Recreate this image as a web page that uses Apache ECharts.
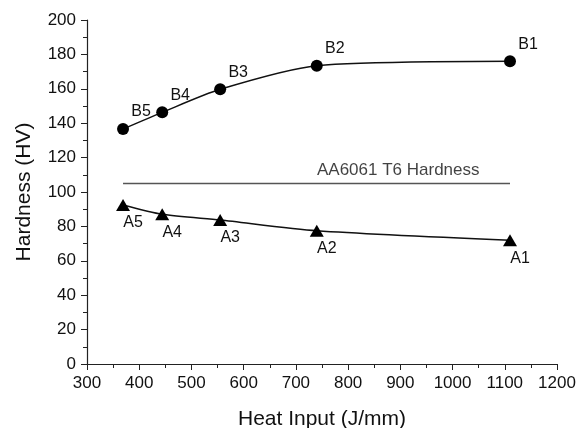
<!DOCTYPE html>
<html>
<head>
<meta charset="utf-8">
<script src="https://cdn.jsdelivr.net/npm/echarts@6/dist/echarts.min.js"></script>
<style>
  html, body { margin: 0; padding: 0; background: #fff; }
  #chart { width: 576px; height: 428px; }
</style>
</head>
<body>
<div id="chart"></div>
<script>
// values
const heatInput = [1110, 740, 555, 444, 369];
const bNames = ['B1', 'B2', 'B3', 'B4', 'B5'];
const bHardness = [176, 173.4, 159.7, 146.3, 136.6];
const aNames = ['A1', 'A2', 'A3', 'A4', 'A5'];
const aHardness = [72, 77.5, 83.7, 87, 92.4];
const refX = [369, 1110];
const refHardness = 105;
const refLabel = 'AA6061 T6 Hardness';
const refLabelX = 896;

const font = 'Liberation Sans, Arial, sans-serif';

function points(names, ys) {
    return heatInput.map((x, i) => ({ name: names[i], value: [x, ys[i]] })).sort((p, q) => p.value[0] - q.value[0]);
}

const chart = echarts.init(document.getElementById('chart'));
chart.setOption({
    animation: false,
    grid: { left: 87, right: 19, top: 20, bottom: 64, outerBoundsMode: 'none' },
    xAxis: {
        type: 'value', min: 300, max: 1200, interval: 100,
        name: 'Heat Input (J/mm)', nameLocation: 'middle', nameGap: 45,
        nameTextStyle: { fontFamily: font, fontSize: 21, color: '#111' },
        axisLine: { lineStyle: { color: '#222', width: 1.2 } },
        axisTick: { show: true, length: 6, lineStyle: { color: '#222' } },
        minorTick: { show: true, splitNumber: 2, length: 4, lineStyle: { color: '#222' } },
        splitLine: { show: false },
        axisLabel: { fontFamily: font, fontSize: 17, color: '#111', margin: 11, formatter: v => String(v) }
    },
    yAxis: {
        type: 'value', min: 0, max: 200, interval: 20,
        name: 'Hardness (HV)', nameLocation: 'middle', nameGap: 52, nameRotate: 90,
        nameTextStyle: { fontFamily: font, fontSize: 21, color: '#111' },
        axisLine: { show: true, lineStyle: { color: '#222', width: 1.2 } },
        axisTick: { show: true, length: 6, lineStyle: { color: '#222' } },
        minorTick: { show: true, splitNumber: 2, length: 4, lineStyle: { color: '#222' } },
        splitLine: { show: false },
        axisLabel: { fontFamily: font, fontSize: 17, color: '#111', margin: 11 }
    },
    series: [
        {
            type: 'line', smooth: 0.25,
            data: points(bNames, bHardness),
            symbol: 'circle', symbolSize: 12,
            itemStyle: { color: '#000' },
            lineStyle: { color: '#111', width: 1.5 },
            label: {
                show: true, position: 'inside', offset: [18, -17],
                formatter: p => p.name,
                fontFamily: font, fontSize: 16, color: '#111'
            }
        },
        {
            type: 'line', smooth: 0.25,
            data: points(aNames, aHardness),
            symbol: 'triangle', symbolSize: [14, 12],
            itemStyle: { color: '#000' },
            lineStyle: { color: '#111', width: 1.5 },
            label: {
                show: true, position: 'inside', offset: [10, 18],
                formatter: p => p.name,
                fontFamily: font, fontSize: 16, color: '#111'
            }
        },
        {
            type: 'line',
            data: refX.map(x => [x, refHardness]),
            symbol: 'none',
            lineStyle: { color: '#555', width: 1.5 }
        },
        {
            type: 'scatter',
            data: [[refLabelX, refHardness]],
            symbolSize: 0,
            label: {
                show: true, position: 'top', distance: 5,
                formatter: refLabel,
                fontFamily: font, fontSize: 17, color: '#111'
            }
        }
    ]
});
</script>
</body>
</html>
